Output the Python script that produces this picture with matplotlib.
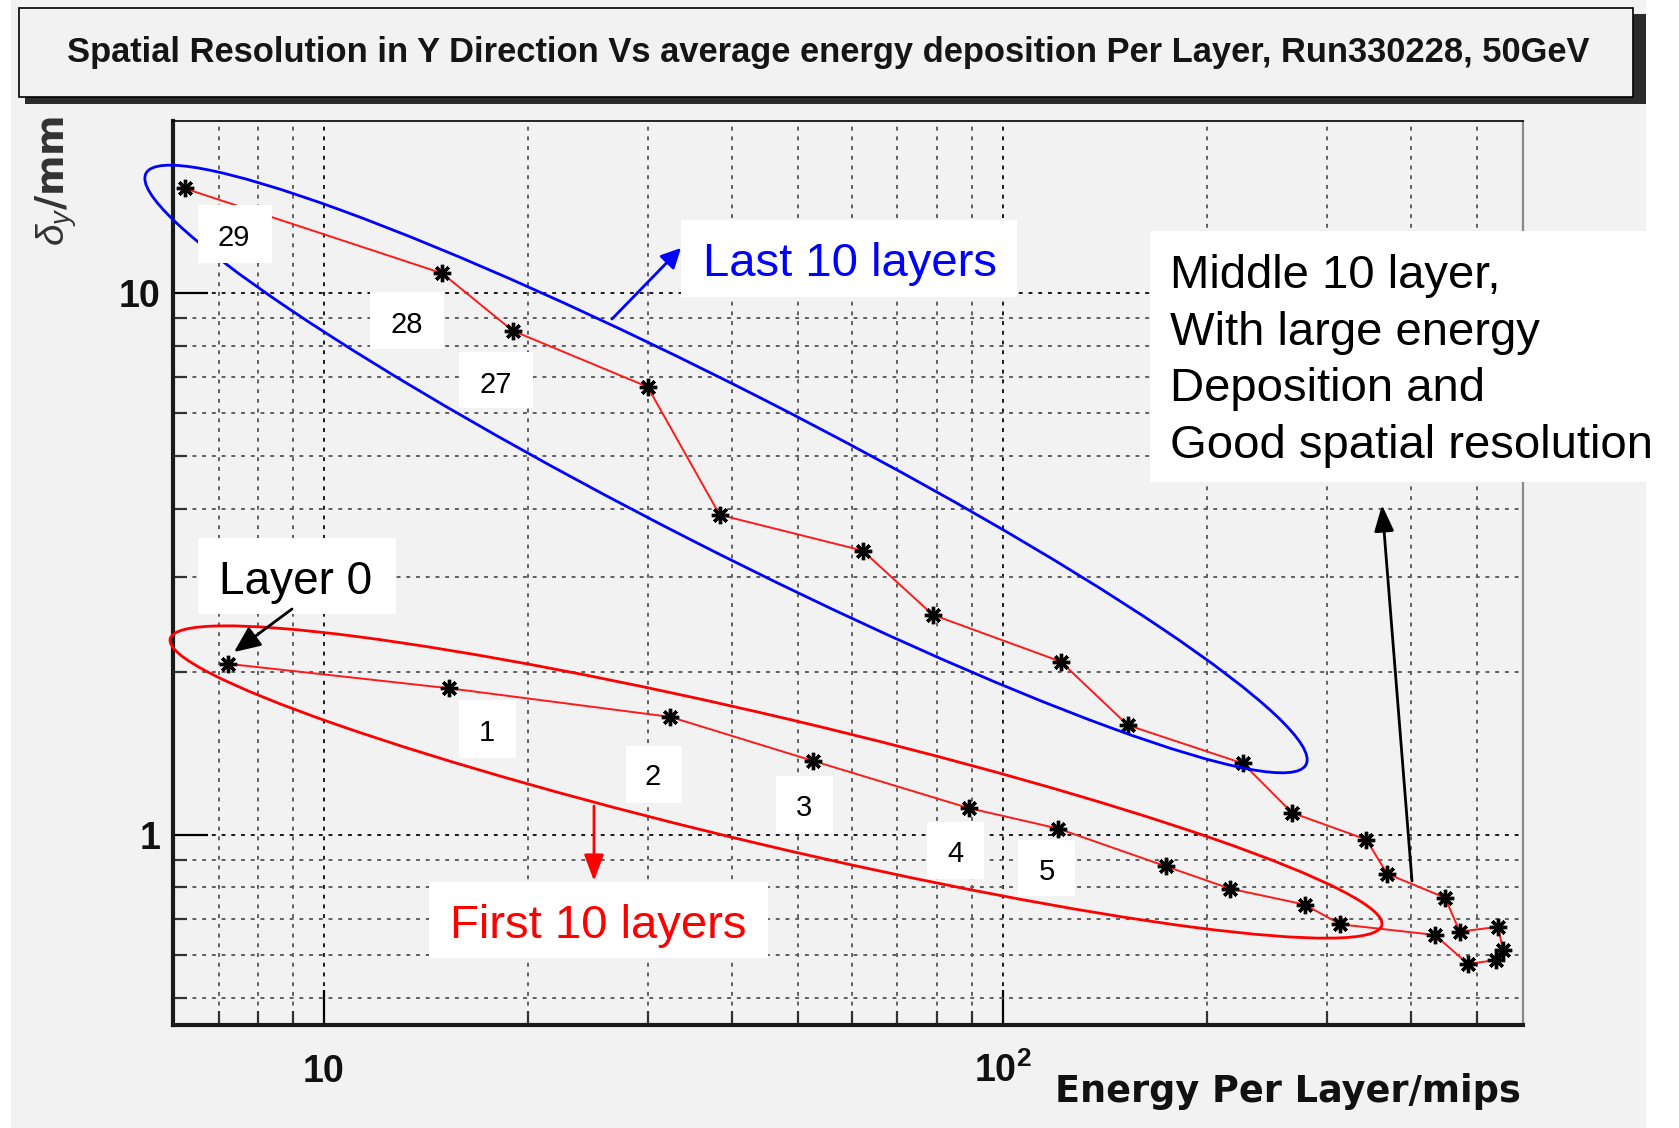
import matplotlib
matplotlib.use("Agg")
import matplotlib.pyplot as plt
import matplotlib.transforms as mtrans
from matplotlib.patches import Ellipse, Rectangle, FancyArrowPatch
from matplotlib.ticker import NullFormatter

plt.rcParams['mathtext.fontset'] = 'custom'
plt.rcParams['mathtext.rm'] = 'Liberation Sans'
plt.rcParams['mathtext.bf'] = 'Liberation Sans:bold'
plt.rcParams['mathtext.it'] = 'Liberation Sans:italic'

# ---------------- data ----------------
layers = list(range(30))
energy = [7.23, 15.3, 32.4, 52.6, 89.2, 120.6, 174.2, 216.3, 278.6, 314.5,
          433.0, 484.9, 533.9, 545.9, 536.8, 471.4, 448.5, 368.5, 343.3, 267.0,
          225.9, 152.9, 121.8, 78.9, 62.2, 38.3, 30.0, 18.98, 14.94, 6.24]
resolution = [2.07, 1.866, 1.652, 1.37, 1.121, 1.028, 0.875, 0.796, 0.744, 0.684,
              0.654, 0.578, 0.588, 0.613, 0.677, 0.663, 0.766, 0.848, 0.981, 1.099,
              1.356, 1.595, 2.09, 2.55, 3.35, 3.90, 6.72, 8.53, 10.89, 15.62]

x_major = [10, 100]
x_major_labels = ["10", r"$\mathbf{10^{2}}$"]
y_major = [1, 10]
y_major_labels = ["1", "10"]
x_minor = [7, 8, 9, 20, 30, 40, 50, 60, 70, 80, 90, 200, 300, 400, 500]
y_minor = [0.5, 0.6, 0.7, 0.8, 0.9, 2, 3, 4, 5, 6, 7, 8, 9]

title = ("Spatial Resolution in Y Direction Vs average energy deposition "
         "Per Layer, Run330228, 50GeV")
x_title = "Energy Per Layer/mips"
y_title = r"$\delta_{y}$/mm"

# ---------------- figure ----------------
W, H, DPI = 1679, 1128, 100
fig = plt.figure(figsize=(W / DPI, H / DPI), dpi=DPI, facecolor="white")
PX = mtrans.Affine2D().scale(1, -1).translate(0, H)  # top-left pixel coords

BG = "#f2f2f2"
fig.add_artist(Rectangle((11, 0), 1646 - 11, H, transform=PX,
                         facecolor=BG, edgecolor="none", zorder=-10))

# title box with shadow
fig.add_artist(Rectangle((25, 14), 1646 - 25, 104 - 14, transform=PX,
                         facecolor="#2b2b2b", edgecolor="none", zorder=1))
fig.add_artist(Rectangle((19, 8), 1633 - 19, 97 - 8, transform=PX,
                         facecolor=BG, edgecolor="black", lw=1.2, zorder=2))
t_title = fig.text(828, 62, title, transform=PX, ha="center", va="baseline",
                   fontsize=22, fontweight="bold", family="Liberation Sans",
                   color="#151515", zorder=3)

# axes
L, R, T, B = 173.4, 1523.2, 120.7, 1025.0
ax = fig.add_axes([L / W, 1 - B / H, (R - L) / W, (B - T) / H])
ax.set_facecolor(BG)
ax.set_xscale("log")
ax.set_yscale("log")
ax.set_xlim(6.005, 584.6)
ax.set_ylim(0.4459, 20.83)

ax.set_xticks(x_major, labels=x_major_labels, fontsize=27, fontweight="bold",
              family="Liberation Sans", va="baseline")
ax.set_xticks(x_minor, minor=True)
ax.set_yticks(y_major, labels=y_major_labels, fontsize=27, fontweight="bold",
              family="Liberation Sans")
ax.set_yticks(y_minor, minor=True)
ax.xaxis.set_minor_formatter(NullFormatter())
ax.yaxis.set_minor_formatter(NullFormatter())
ax.tick_params(axis="x", which="major", pad=41)
ax.tick_params(axis="y", which="major", pad=9.6)
ax.tick_params(which="major", direction="in", length=25, width=1.6,
               top=False, right=False, color="black", labelcolor="#111111")
ax.tick_params(which="minor", direction="in", length=10, width=1.6,
               top=False, right=False, color="#333333")

ax.grid(True, which="major", ls=(0, (2, 3)), lw=1.4, color="#1a1a1a")
ax.grid(True, which="minor", ls=(0, (2, 3)), lw=1.4, color="#606060")
ax.set_axisbelow(True)

for s in ("left", "bottom"):
    ax.spines[s].set_linewidth(3.0)
    ax.spines[s].set_color("#1a1a1a")
ax.spines["top"].set_linewidth(1.2)
ax.spines["top"].set_color("black")
ax.spines["right"].set_linewidth(1.6)
ax.spines["right"].set_color("#8a8a8a")

# data
ax.plot(energy, resolution, color="#ff1a1a", lw=1.4, zorder=3)
ax.plot(energy, resolution, ls="none", marker=(8, 2, 0), ms=12.5, mew=2.4,
        color="black", zorder=4)

# axis titles
t_x = fig.text(1521, 1102, x_title, transform=PX, ha="right", va="baseline",
               fontsize=26, fontweight="bold", family="DejaVu Sans", color="#111111")
fig.text(56, 116, y_title, transform=PX, ha="center", va="top", rotation=90,
         fontsize=28, fontweight="bold", family="DejaVu Sans", color="#333333")

# ---------------- annotations ----------------
fig.add_artist(Ellipse((726, 469), 1302, 158, angle=27, transform=PX,
                       fill=False, edgecolor="#0000ff", lw=2.0, zorder=5))
fig.add_artist(Ellipse((776, 782), 1245, 128, angle=13.3, transform=PX,
                       fill=False, edgecolor="#ff0000", lw=2.0, zorder=5))


def white_box(x0, y0, x1, y1):
    fig.add_artist(Rectangle((x0, y0), x1 - x0, y1 - y0, transform=PX,
                             facecolor="white", edgecolor="none", zorder=6))


def label(x, y, s, size, color="black", ha="center"):
    fig.text(x, y, s, transform=PX, ha=ha, va="baseline", fontsize=size,
             family="Liberation Sans", color=color, zorder=7)


digit_boxes = [
    ("29", (198, 205, 272, 263), (234, 246)),
    ("28", (370, 292, 444, 349), (407, 333)),
    ("27", (459, 352, 533, 408), (496, 393)),
    ("1", (459, 700, 516, 758), (487, 741)),
    ("2", (626, 746, 682, 803), (653, 785)),
    ("3", (776, 776, 833, 833), (804, 816)),
    ("4", (927, 822, 984, 879), (955, 862)),
    ("5", (1018, 840, 1075, 896), (1047, 880)),
]
for s, bx, (tx, ty) in digit_boxes:
    white_box(*bx)
    label(tx, ty, s, 21)

white_box(681, 220, 1017, 297)
label(703, 276, "Last 10 layers", 34, color="#0000ff", ha="left")

white_box(198, 538, 396, 614)
label(219, 594, "Layer 0", 33, ha="left")

white_box(429, 882, 768, 958)
label(450, 938, "First 10 layers", 34, color="#ff0000", ha="left")

white_box(1150, 231, 1679, 482)
middle_lines = ["Middle 10 layer,", "With large energy", "Deposition and",
                "Good spatial resolution"]
for i, s in enumerate(middle_lines):
    label(1170, 288 + 56.7 * i, s, 34, ha="left")


def arrow(p0, p1, color, hl, hw, lw=2.0):
    fig.add_artist(FancyArrowPatch(
        p0, p1, transform=PX, color=color, lw=lw, shrinkA=0, shrinkB=0,
        arrowstyle=f"-|>,head_length={hl},head_width={hw}", mutation_scale=20,
        zorder=8))


arrow((612, 319), (681, 248), "#0000ff", 0.6, 0.3)
arrow((292, 609), (234, 652), "black", 0.8, 0.35)
arrow((1412, 881), (1382, 505), "black", 0.8, 0.3)
arrow((594, 806), (594, 881), "#ff0000", 0.8, 0.3)

# fit title / axis-title widths to the reference
fig.canvas.draw()
r = fig.canvas.get_renderer()
for t, target in ((t_title, 1524.0), (t_x, 465.0)):
    w = t.get_window_extent(r).width
    t.set_fontsize(t.get_fontsize() * target / w)

fig.savefig("out.png", dpi=DPI, facecolor=fig.get_facecolor())
